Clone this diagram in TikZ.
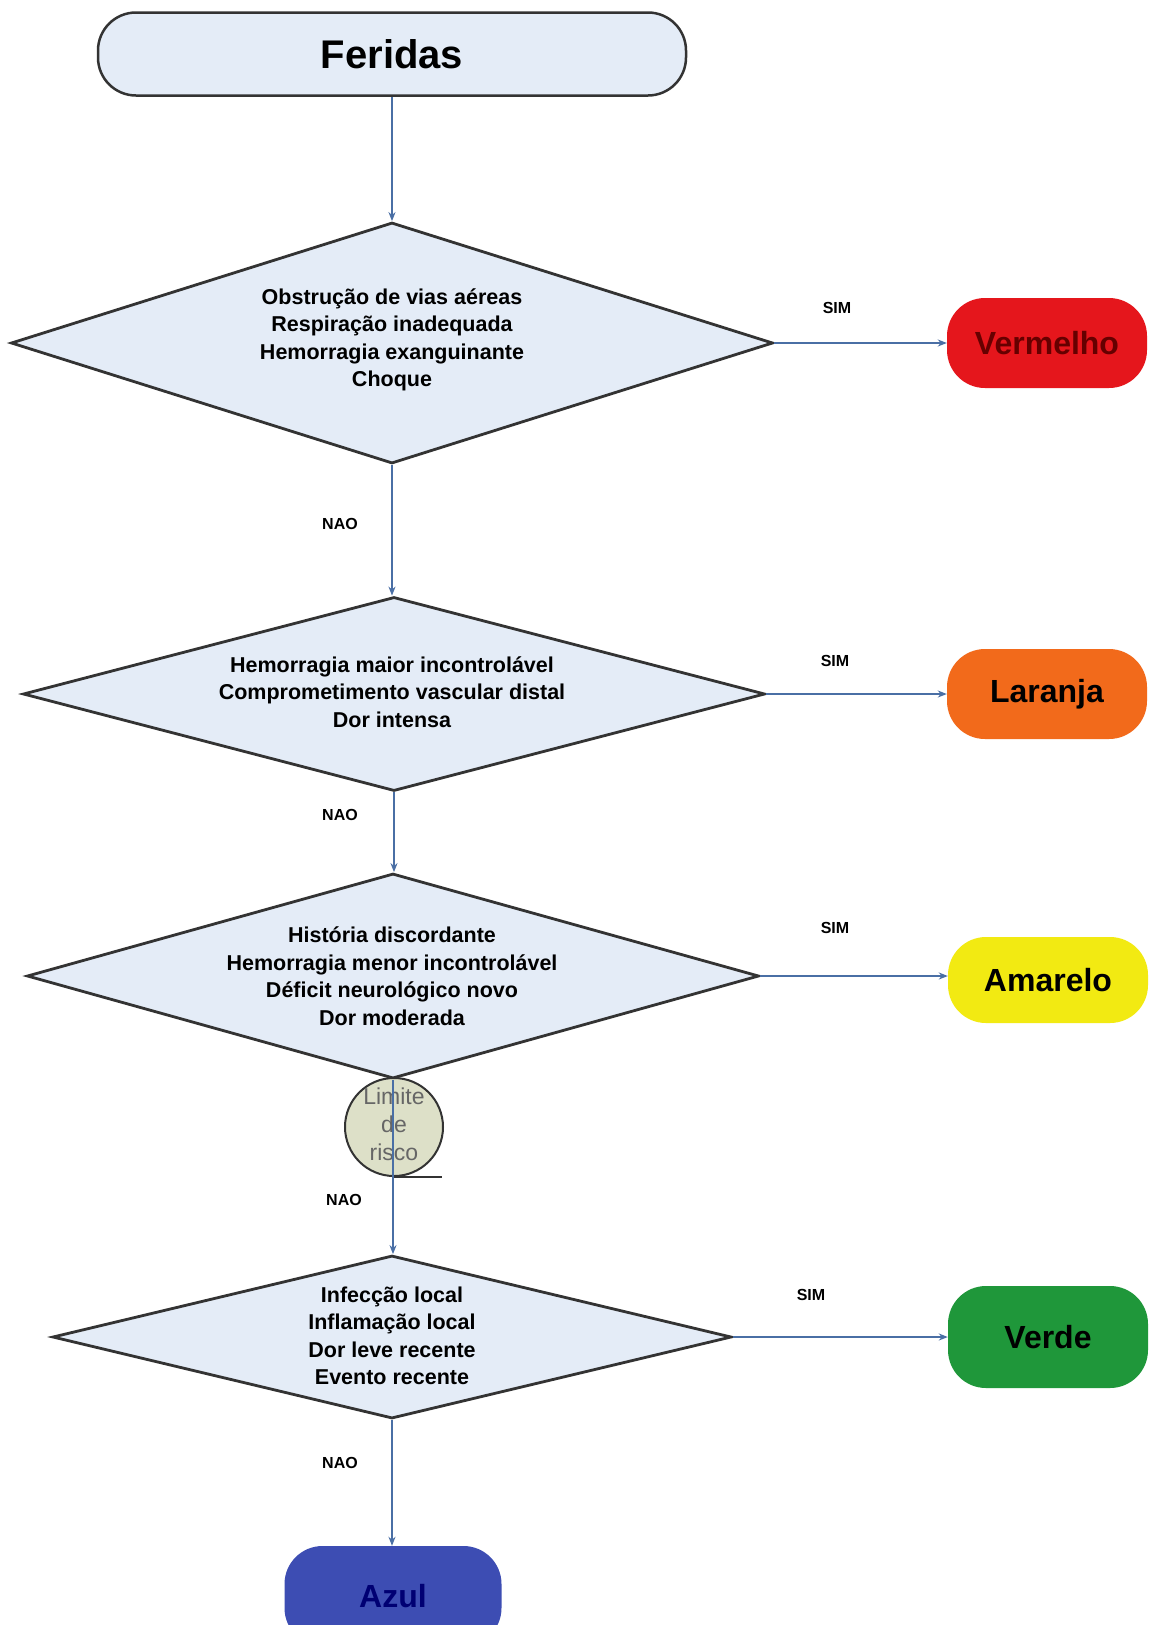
\documentclass[tikz,border=0pt]{standalone}
\usepackage{fontspec}
\setmainfont{Liberation Sans}
\usetikzlibrary{shapes.geometric,arrows.meta}

\definecolor{panel}{HTML}{E4ECF7}
\definecolor{outline}{HTML}{333333}
\definecolor{flowline}{HTML}{4A6FA5}
\definecolor{cred}{HTML}{E5161C}
\definecolor{corange}{HTML}{F26A1B}
\definecolor{cyellow}{HTML}{F2EA12}
\definecolor{cgreen}{HTML}{1F973A}
\definecolor{cblue}{HTML}{3D4DB3}
\definecolor{riskfill}{HTML}{DDE0C8}

\begin{document}
\begin{tikzpicture}[x=1pt,y=-1pt,
  startbox/.style={draw=outline, line width=2.5pt, fill=panel, rounded corners=38pt,
    minimum width=588pt, minimum height=83pt, inner sep=0pt,
    font=\bfseries\fontsize{40}{44}\selectfont},
  decision/.style={draw=outline, line width=2.8pt, fill=panel, diamond,
    inner sep=0pt},
  dtext/.style={align=center, inner sep=0pt, font=\bfseries\fontsize{21.5}{27.5}\selectfont},
  outcome/.style={rounded corners=38pt, minimum width=200pt, minimum height=90pt,
    inner sep=0pt, font=\bfseries\fontsize{32}{36}\selectfont},
  answer/.style={inner sep=0pt, font=\bfseries\fontsize{16}{18}\selectfont},
  flow/.style={draw=flowline, line width=1.5pt, -{Stealth[length=9pt,width=7pt]}},
  risktext/.style={align=center, inner sep=0pt, text=black!60,
    font=\fontsize{23}{28}\selectfont}
]
\clip (0,0) rectangle (1150,1625);
\fill[white] (0,0) rectangle (1150,1625);

% start
\node[startbox] (fer) at (392,54) {Feridas};

% decisions
\node[decision, minimum width=762pt, minimum height=241pt] (d1) at (392,343) {};
\node[dtext] (d1t) at (392,340) {Obstrução de vias aéreas\\Respiração inadequada\\Hemorragia exanguinante\\Choque};

\node[decision, minimum width=742pt, minimum height=194pt] (d2) at (394,694) {};
\node[dtext] (d2t) at (392,692) {Hemorragia maior incontrolável\\Comprometimento vascular distal\\Dor intensa};

\node[decision, minimum width=732pt, minimum height=205pt] (d3) at (393,976) {};
\node[dtext] (d3t) at (392,976) {História discordante\\Hemorragia menor incontrolável\\Déficit neurológico novo\\Dor moderada};

\node[decision, minimum width=679pt, minimum height=163pt] (d4) at (392,1337) {};
\node[dtext] (d4t) at (392,1336) {Infecção local\\Inflamação local\\Dor leve recente\\Evento recente};

% outcomes
\node[outcome, fill=cred, text=black!60!red] (vermelho) at (1047,343) {Vermelho};
\node[outcome, fill=corange] (laranja) at (1047,694) {Laranja};
\node[outcome, fill=cyellow, minimum height=86pt] (amarelo) at (1048,980) {Amarelo};
\node[outcome, fill=cgreen, minimum height=102pt] (verde) at (1048,1337) {Verde};
\node[outcome, fill=cblue, text=black!55!blue, minimum width=217pt, minimum height=100pt] (azul) at (393,1596) {Azul};

% risk threshold marker (sequential-storage symbol)
\node[circle, draw=outline, line width=2pt, fill=riskfill, minimum size=98pt, inner sep=0pt] (risk) at (394,1127) {};
\draw[outline, line width=2pt] (risk.south) -- ++(48,0) coordinate (risktail);
\node[risktext] (riskt) at (394,1124) {Limite\\de\\risco};

% connectors
\draw[flow] (fer.south) -- (fer.south |- d1.north);
\draw[flow] (d1.south) -- (d1.south |- d2.north);
\draw[flow] (d2.south) -- (d2.south |- d3.north);
\draw[flow] (d3.south) -- (d3.south |- d4.north);
\draw[flow] (d4.south) -- (d4.south |- azul.north);

\draw[flow] (d1.east) -- (d1.east -| vermelho.west);
\draw[flow] (d2.east) -- (d2.east -| laranja.west);
\draw[flow] (d3.east) -- (d3.east -| amarelo.west);
\draw[flow] (d4.east) -- (d4.east -| verde.west);

% answer labels
\node[answer] (s1) at (837,308) {SIM};
\node[answer] (s2) at (835,661) {SIM};
\node[answer] (s3) at (835,928) {SIM};
\node[answer] (s4) at (811,1295) {SIM};
\node[answer] (n1) at (340,524) {NAO};
\node[answer] (n2) at (340,815) {NAO};
\node[answer] (n3) at (344,1200) {NAO};
\node[answer] (n4) at (340,1463) {NAO};
\end{tikzpicture}
\end{document}
